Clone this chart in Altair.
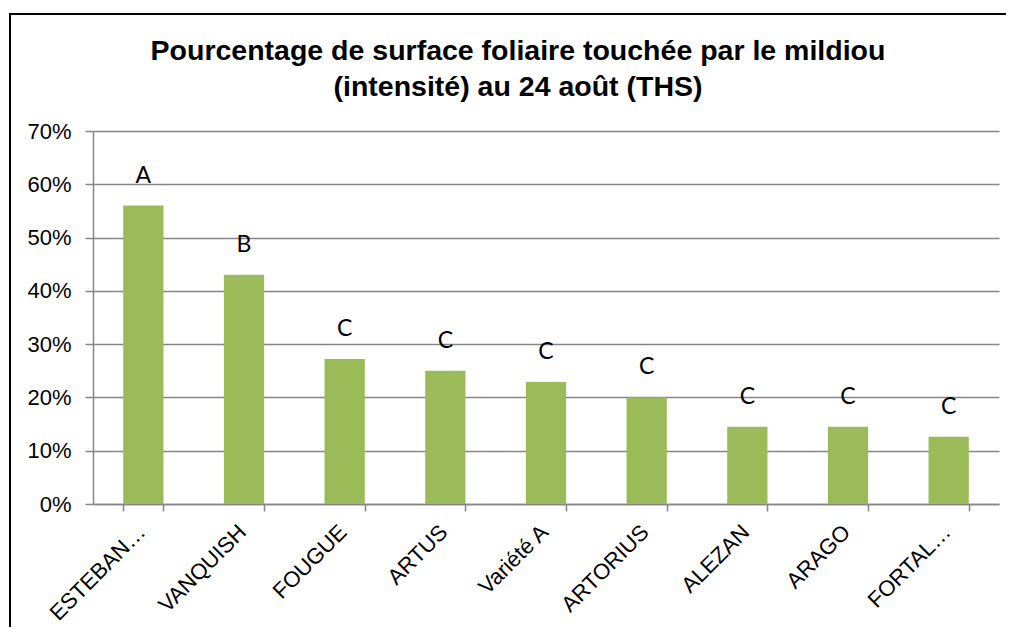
import altair as alt
import pandas as pd

varieties = ["ESTEBAN…", "VANQUISH", "FOUGUE", "ARTUS", "Variété A", "ARTORIUS", "ALEZAN", "ARAGO", "FORTAL…"]
values = [0.56, 0.43, 0.272, 0.25, 0.229, 0.20, 0.145, 0.145, 0.126]
groups = ["A", "B", "C", "C", "C", "C", "C", "C", "C"]
y_ticks = [0, 0.1, 0.2, 0.3, 0.4, 0.5, 0.6, 0.7]

df = pd.DataFrame({"variete": varieties, "valeur": values, "groupe": groups})

x_enc = alt.X(
    "variete:N",
    sort=None,
    title=None,
    scale=alt.Scale(paddingInner=0.6, paddingOuter=0.3),
    axis=alt.Axis(
        labelAngle=-45,
        labelFont="Liberation Sans",
        labelFontSize=22,
        labelColor="#000000",
        labelPadding=10,
        labelOffset=-9,
        tickBand="extent",
        tickSize=7,
        tickColor="#868686",
        tickWidth=1.5,
        domainColor="#868686",
        domainWidth=1.5,
        grid=False,
    ),
)
y_enc = alt.Y(
    "valeur:Q",
    title=None,
    scale=alt.Scale(domain=[0, 0.7], nice=False),
    axis=alt.Axis(
        values=y_ticks,
        format=".0%",
        labelFont="Liberation Sans",
        labelFontSize=22,
        labelColor="#000000",
        labelPadding=14,
        tickSize=8,
        tickColor="#868686",
        tickWidth=1.5,
        domainColor="#868686",
        domainWidth=1.5,
        gridColor="#868686",
        gridWidth=1.5,
    ),
)

bars = alt.Chart(df).mark_bar(color="#9BBB59").encode(x=x_enc, y=y_enc)
letters = alt.Chart(df).mark_text(
    baseline="bottom", dy=-18, font="Lato", fontSize=23, color="#000000"
).encode(x=alt.X("variete:N", sort=None), y="valeur:Q", text="groupe:N")

frame = alt.Chart(pd.DataFrame({"k": [0]})).mark_rect(
    filled=False, stroke="#000000", strokeWidth=2
).encode(
    x=alt.value(-83), x2=alt.value(1200), y=alt.value(-117), y2=alt.value(900)
)

chart = (
    alt.layer(frame, bars, letters)
    .properties(
        width=906,
        height=373,
        autosize=alt.AutoSizeParams(type="none"),
        padding={"left": 85, "top": 123, "right": 7, "bottom": 123},
        title=alt.TitleParams(
            text=["Pourcentage de surface foliaire touchée par le mildiou", "(intensité) au 24 août (THS)"],
            font="Liberation Sans",
            fontSize=28.5,
            fontWeight="bold",
            color="#000000",
            anchor="middle",
            dx=-28,
            lineHeight=36,
            offset=-88,
        ),
    )
    .configure_view(stroke=None)
)

chart.save("out.html", embed_options={"renderer": "svg", "actions": False})
